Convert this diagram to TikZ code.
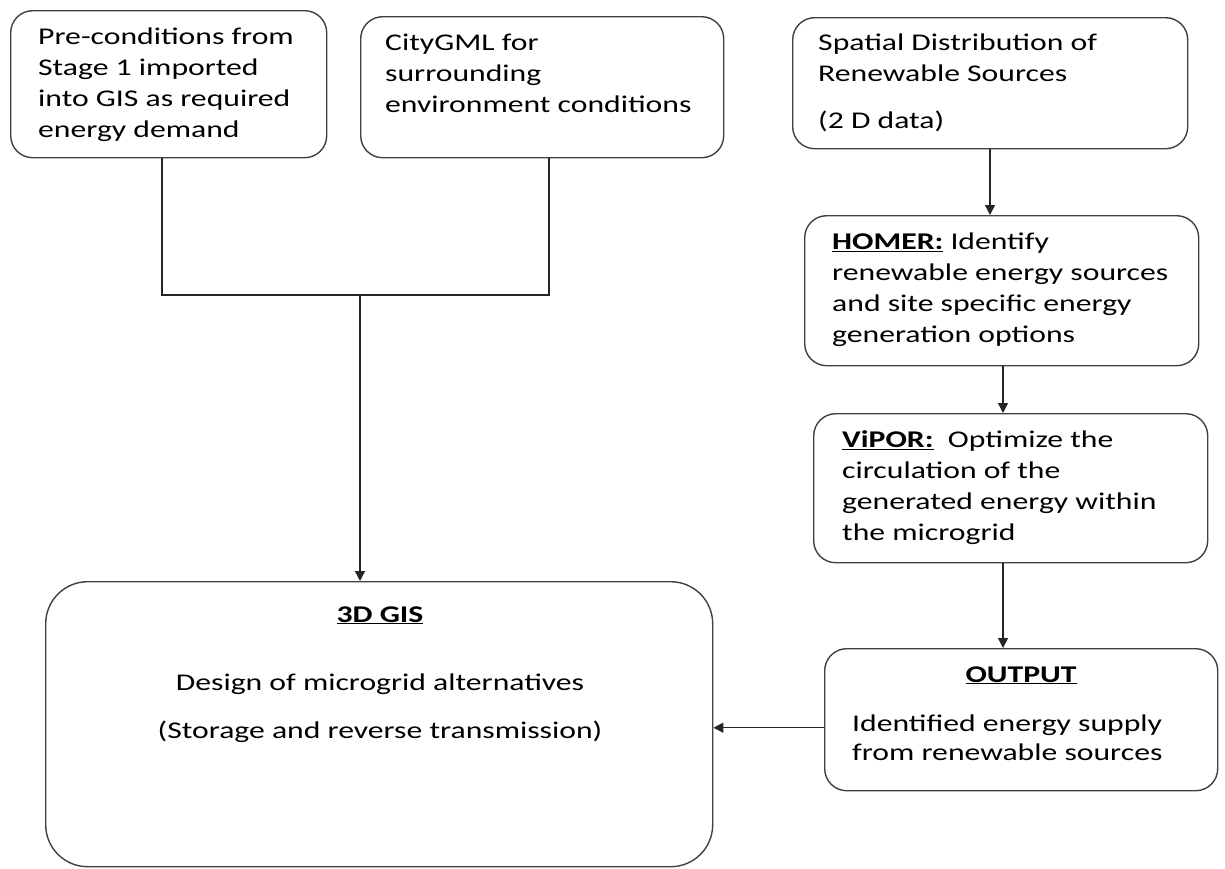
\documentclass[tikz,border=0pt]{standalone}
\usepackage{fontspec}
\setmainfont[FakeStretch=1.32]{Carlito}
\usetikzlibrary{arrows.meta}
\begin{document}
\begin{tikzpicture}[x=1pt,y=-1pt,
  box/.style={draw=black!75, line width=1.4pt, rounded corners=22pt, inner sep=0pt, anchor=north west},
  txt/.style={font=\fontsize{24}{31}\selectfont, align=left, inner sep=0pt, anchor=north west},
  ctxt/.style={font=\fontsize{24}{31}\selectfont, align=center, inner sep=0pt},
  conn/.style={draw=black!85, line width=1.4pt},
  arr/.style={conn, -{Triangle[length=10pt,width=10pt]}}]
\useasboundingbox (0,0) rectangle (1225,868);

% boxes
\node[box, minimum width=316pt, minimum height=147pt] (b1) at (10,10) {};
\node[box, minimum width=363pt, minimum height=141pt] (b2) at (360,16) {};
\node[box, minimum width=395pt, minimum height=131pt] (b3) at (792,17) {};
\node[box, minimum width=394pt, minimum height=150pt] (homer) at (804,215) {};
\node[box, minimum width=394pt, minimum height=149pt] (vipor) at (813,413) {};
\node[box, minimum width=393pt, minimum height=142pt] (out) at (824,648) {};
\node[box, rounded corners=42pt, minimum width=667pt, minimum height=285pt] (gis) at (45,581) {};

% texts
\node[txt] (t1) at (38,22.3) {\strut Pre-conditions from\\Stage 1 imported\\into GIS as required\\energy demand};
\node[txt] (t2) at (385,28.3) {\strut CityGML for\\surrounding\\environment conditions};
\node[txt] (t3) at (818,28.3) {\strut Spatial Distribution of\\Renewable Sources\\[16pt](2 D data)};
\node[txt] (t4) at (832,227.3) {\strut\underline{\textbf{HOMER:}} Identify\\renewable energy sources\\and site specific energy\\generation options};
\node[txt] (t5) at (842,425.3) {\strut\underline{\textbf{ViPOR:}}\ \ Optimize the\\circulation of the\\generated energy within\\the microgrid};
\node[ctxt, anchor=base] (t6) at (1021,682) {\underline{\textbf{OUTPUT}}};
\node[txt] (t7) at (852,709.3) {\strut Identified energy supply\\[-2pt]from renewable sources};
\node[ctxt, anchor=base] (t8) at (380,622) {\underline{\textbf{3D GIS}}};
\node[ctxt, anchor=north] (t9) at (380,668.3) {\strut Design of microgrid alternatives\\[17pt](Storage and reverse transmission)};

% connectors
\coordinate (j) at (360,295);
\draw[conn] ([xshift=152pt]b1.south west) |- (j) -| ([xshift=189pt]b2.south west);
\draw[arr] (j) -- (j |- gis.north);
\draw[arr] ([xshift=198pt]b3.south west) -- ([xshift=186pt]homer.north west);
\draw[arr] ([xshift=199pt]homer.south west) -- ([xshift=190pt]vipor.north west);
\draw[arr] ([xshift=190pt]vipor.south west) -- ([xshift=179pt]out.north west);
\draw[arr] ([yshift=-8pt]out.west) -- ([yshift=-8pt]out.west -| gis.east);
\end{tikzpicture}
\end{document}
